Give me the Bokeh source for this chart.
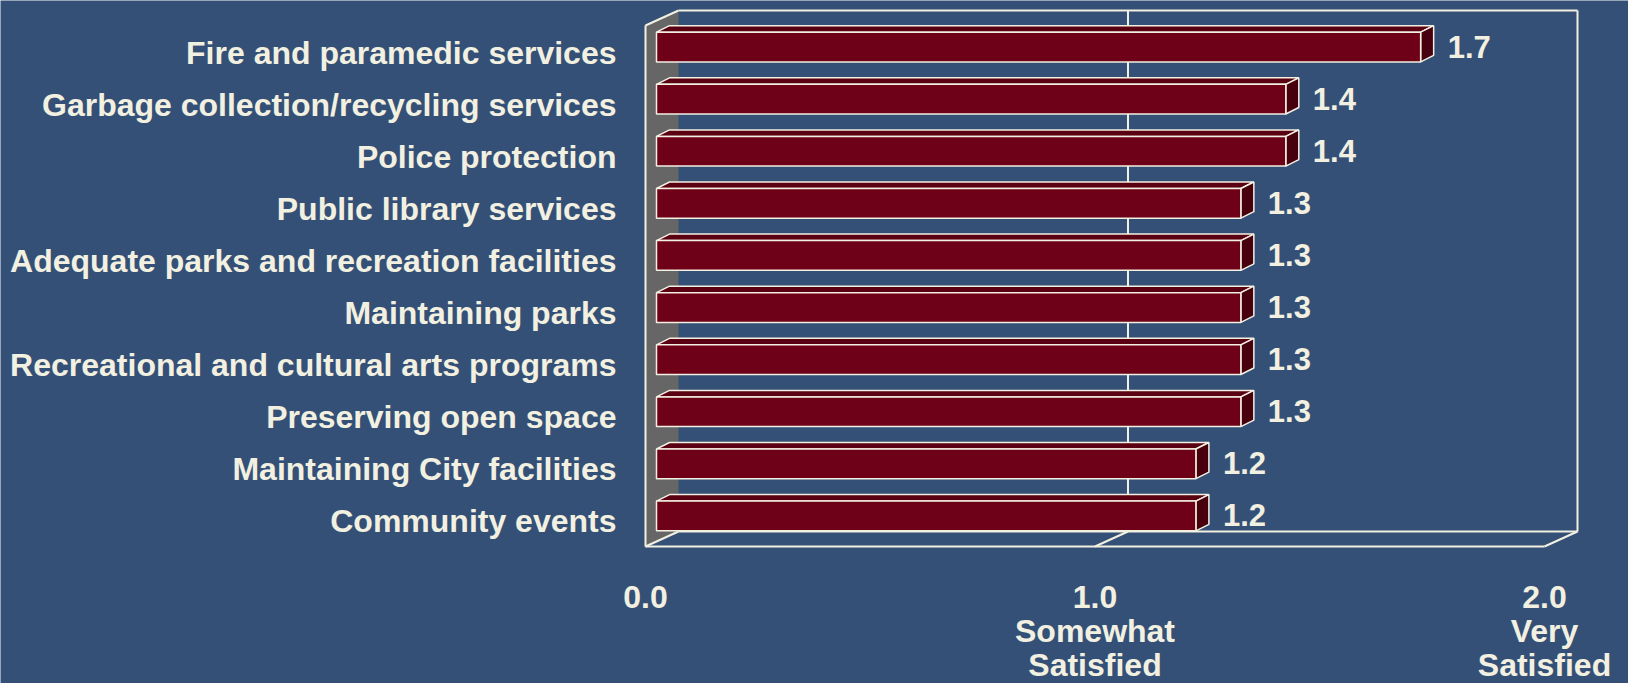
from bokeh.plotting import figure
from bokeh.models import Range1d
from bokeh.core.properties import value
from bokeh.embed import file_html
from bokeh.resources import INLINE

# ---------------- data ----------------
categories = [
    "Fire and paramedic services",
    "Garbage collection/recycling services",
    "Police protection",
    "Public library services",
    "Adequate parks and recreation facilities",
    "Maintaining parks",
    "Recreational and cultural arts programs",
    "Preserving open space",
    "Maintaining City facilities",
    "Community events",
]
scores = [1.7, 1.4, 1.4, 1.3, 1.3, 1.3, 1.3, 1.3, 1.2, 1.2]
score_labels = ["1.7", "1.4", "1.4", "1.3", "1.3", "1.3", "1.3", "1.3", "1.2", "1.2"]
x_ticks = [0.0, 1.0, 2.0]
x_tick_labels = ["0.0", "1.0", "2.0"]
x_tick_captions = [[], ["Somewhat", "Satisfied"], ["Very", "Satisfied"]]
x_max = 2.0

# ---------------- style / layout ----------------
W, H = 1628, 683
X0 = 645.0      # frame px of value 0 on the front plane
PX = 449.5      # px per value unit
Y0 = 25.0       # frame px of top of category area (front plane)
PY = 52.1       # px per category row
N = len(categories)

BG = "#355077"
CREAM = "#F2F0E1"
WALL_GRAY = "#666666"
BAR_FRONT = "#6E0018"
BAR_TOP = "#5A0012"
BAR_SIDE = "#48000E"
FONT = "Liberation Sans"

WALL = (33.0, -15.0)      # depth of the box (px)
BAR_PLANE = (11.0, -4.5)  # bars' front plane (px)
BAR_DEPTH = (13.0, -6.5)  # bar depth (px)
BAR_H = 0.57              # bar height as fraction of row


def off(x, y, d):
    return x + d[0] / PX, y + d[1] / PY


x_range = Range1d(-X0 / PX, (W - X0) / PX)
y_range = Range1d((H - Y0) / PY, -Y0 / PY)  # rows grow downward

p = figure(width=W, height=H, x_range=x_range, y_range=y_range,
           output_backend="svg", toolbar_location=None,
           x_axis_type=None, y_axis_type=None, min_border=0)
p.background_fill_color = BG
p.border_fill_color = BG
p.outline_line_color = None
p.grid.visible = False

# ---------------- box: back wall edges, gridlines, left wall, floor ----------------
btl = off(0, 0, WALL)
btr = off(x_max, 0, WALL)
bbl = off(0, N, WALL)
bbr = off(x_max, N, WALL)
ftl = (0, 0)
fbl = (0, N)
fbr = (x_max, N)

# left wall fill
p.patch([ftl[0], btl[0], bbl[0], fbl[0]], [ftl[1], btl[1], bbl[1], fbl[1]],
        fill_color=WALL_GRAY, line_color=None)

edges_x, edges_y = [], []
def seg(a, b):
    edges_x.append([a[0], b[0]])
    edges_y.append([a[1], b[1]])

seg(btl, btr)      # back top
seg(btr, bbr)      # back right
seg(bbl, bbr)      # floor back
seg(ftl, btl)      # wall top diagonal
seg(ftl, fbl)      # wall front edge
seg(fbl, bbl)      # wall bottom diagonal
seg(fbl, fbr)      # floor front
seg(fbr, bbr)      # floor right diagonal
for t in x_ticks:
    if 0 < t < x_max:
        seg(off(t, 0, WALL), off(t, N, WALL))
        seg(off(t, N, WALL), (t, N))

p.multi_line(edges_x, edges_y, line_color=CREAM, line_width=2)

# ---------------- bars ----------------
top_xs, top_ys, side_xs, side_ys, front_xs, front_ys = [], [], [], [], [], []
for i, v in enumerate(scores):
    rc = i + 0.5
    t = rc - BAR_H / 2
    b = rc + BAR_H / 2
    fl_t = off(0, t, BAR_PLANE)
    fr_t = off(v, t, BAR_PLANE)
    fr_b = off(v, b, BAR_PLANE)
    fl_b = off(0, b, BAR_PLANE)
    bl_t = off(*fl_t, BAR_DEPTH)
    br_t = off(*fr_t, BAR_DEPTH)
    br_b = off(*fr_b, BAR_DEPTH)
    top_xs.append([fl_t[0], fr_t[0], br_t[0], bl_t[0]])
    top_ys.append([fl_t[1], fr_t[1], br_t[1], bl_t[1]])
    side_xs.append([fr_t[0], br_t[0], br_b[0], fr_b[0]])
    side_ys.append([fr_t[1], br_t[1], br_b[1], fr_b[1]])
    front_xs.append([fl_t[0], fr_t[0], fr_b[0], fl_b[0]])
    front_ys.append([fl_t[1], fr_t[1], fr_b[1], fl_b[1]])

p.patches(top_xs, top_ys, fill_color=BAR_TOP, line_color=CREAM, line_width=1.5)
p.patches(side_xs, side_ys, fill_color=BAR_SIDE, line_color=CREAM, line_width=1.5)
p.patches(front_xs, front_ys, fill_color=BAR_FRONT, line_color=CREAM, line_width=1.5)

# ---------------- texts ----------------
rows = [i + 0.5 for i in range(N)]
p.text(x=[0] * N, y=rows, text=categories, x_offset=-29, y_offset=1,
       text_align="right", text_baseline="alphabetic",
       text_font=value(FONT), text_font_style="bold", text_font_size="32px",
       text_color=CREAM)

p.text(x=scores, y=rows, text=score_labels, x_offset=38, y_offset=-5,
       text_align="left", text_baseline="alphabetic",
       text_font=value(FONT), text_font_style="bold", text_font_size="31px",
       text_color=CREAM)

tx, ty, tt, tyo = [], [], [], []
for t, lab, cap in zip(x_ticks, x_tick_labels, x_tick_captions):
    for k, line in enumerate([lab] + cap):
        tx.append(t)
        ty.append(N)
        tt.append(line)
        tyo.append(50 + 34 * k)
p.text(x=tx, y=ty, text=tt, y_offset=tyo,
       text_align="center", text_baseline="alphabetic",
       text_font=value(FONT), text_font_style="bold", text_font_size="32px",
       text_color=CREAM)

open("out.html", "w").write(file_html(p, INLINE))
